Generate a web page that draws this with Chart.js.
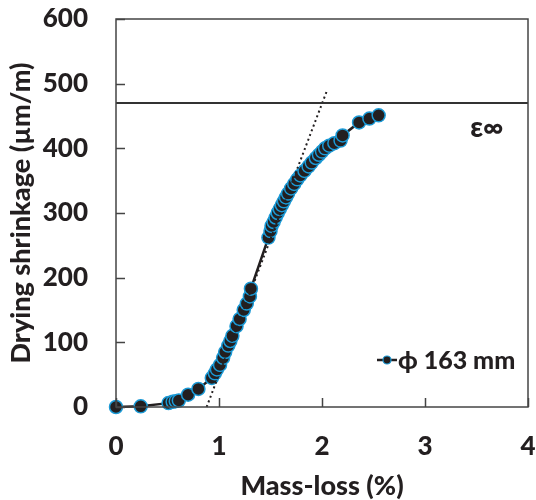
<!DOCTYPE html>
<html>
<head>
<meta charset="utf-8">
<script src="https://cdn.jsdelivr.net/npm/chart.js@4"></script>
<style>
	html, body { margin: 0; padding: 0; background: #fff; }
	#wrap { width: 536px; height: 500px; }
</style>
</head>
<body>
<div id="wrap"><canvas id="graph" width="536" height="500"></canvas></div>
<script>
// mass-loss (%) and drying shrinkage (µm/m)
const massLoss = [0, 0.24, 0.51, 0.55, 0.58, 0.61, 0.70, 0.80, 0.93, 0.96, 0.98, 1.01, 1.04, 1.06, 1.09, 1.11, 1.13, 1.17, 1.20, 1.24, 1.27, 1.30, 1.31,
	1.48, 1.50, 1.51, 1.53, 1.55, 1.57, 1.59, 1.61, 1.63, 1.65, 1.67, 1.70, 1.73, 1.76, 1.79, 1.83, 1.87, 1.90, 1.94, 1.97, 2.00, 2.03, 2.07, 2.12, 2.18, 2.20, 2.36, 2.46, 2.55];
const shrinkage = [0, 1, 6, 8, 9, 10, 19, 28, 45, 52, 58, 65, 76, 85, 95, 102, 110, 125, 136, 150, 160, 171, 183,
	262, 272, 280, 286, 293, 300, 306, 312, 318, 324, 330, 338, 345, 352, 358, 365, 372, 378, 385, 390, 395, 400, 404, 408, 412, 420, 440, 446, 451];
const tangentX = [0.88, 2.05];
const tangentY = [0, 490];
const ultimateShrinkage = 470;
const xTicks = [0, 1, 2, 3, 4];
const yTicks = [0, 100, 200, 300, 400, 500, 600];
const seriesLabel = 'ϕ 163 mm';

const font = 'Lato, "Open Sans", sans-serif';
const ink = '#231f20';
const blue = '#1b9ad6';

const points = massLoss.map((x, i) => ({ x: x, y: shrinkage[i] }));
const tangent = tangentX.map((x, i) => ({ x: x, y: tangentY[i] }));
const limit = [{ x: xTicks[0], y: ultimateShrinkage }, { x: xTicks[xTicks.length - 1], y: ultimateShrinkage }];

function noPadding(s) {
	s.paddingLeft = 0;
	s.paddingRight = 0;
	s.paddingTop = 0;
	s.paddingBottom = 0;
}

const frame = {
	id: 'frame',
	afterDraw(chart) {
		const ctx = chart.ctx;
		const a = chart.chartArea;
		const xs = chart.scales.x, ys = chart.scales.y;
		ctx.save();
		ctx.strokeStyle = '#444';
		ctx.lineWidth = 1.5;
		ctx.strokeRect(a.left, a.top, a.right - a.left, a.bottom - a.top);
		ctx.beginPath();
		yTicks.forEach(v => {
			const y = Math.round(ys.getPixelForValue(v)) + 0.5;
			ctx.moveTo(a.left, y);
			ctx.lineTo(a.left + 9, y);
		});
		xTicks.forEach(v => {
			const x = Math.round(xs.getPixelForValue(v)) + 0.5;
			ctx.moveTo(x, a.bottom);
			ctx.lineTo(x, a.bottom - 9);
		});
		ctx.stroke();

		// ε∞ label
		ctx.fillStyle = ink;
		ctx.font = '900 28px ' + font;
		ctx.textAlign = 'center';
		ctx.textBaseline = 'middle';
		ctx.fillText('ε∞', xs.getPixelForValue(3.6), ys.getPixelForValue(432));

		// legend
		const lx = 377, ly = 360;
		ctx.strokeStyle = ink;
		ctx.lineWidth = 2.5;
		ctx.beginPath();
		ctx.moveTo(lx, ly);
		ctx.lineTo(lx + 20, ly);
		ctx.stroke();
		ctx.beginPath();
		ctx.arc(lx + 10, ly, 4, 0, Math.PI * 2);
		ctx.fillStyle = ink;
		ctx.fill();
		ctx.strokeStyle = blue;
		ctx.lineWidth = 1.2;
		ctx.stroke();
		ctx.fillStyle = ink;
		ctx.font = '900 25px ' + font;
		ctx.textAlign = 'left';
		ctx.fillText(seriesLabel, lx + 21, ly + 1);
		ctx.restore();
	}
};

function plotGraph() {
	const ctx = document.getElementById('graph').getContext('2d');
	new Chart(ctx, {
		type: 'scatter',
		data: {
			datasets: [
				{
					data: limit,
					showLine: true,
					borderColor: '#333',
					borderWidth: 2,
					pointRadius: 0
				},
				{
					data: tangent,
					showLine: true,
					borderColor: ink,
					borderWidth: 2,
					borderDash: [2, 3],
					pointRadius: 0
				},
				{
					label: seriesLabel,
					data: points,
					showLine: true,
					borderColor: ink,
					borderWidth: 2.5,
					pointRadius: 6.5,
					pointBackgroundColor: ink,
					pointBorderColor: blue,
					pointBorderWidth: 1.5
				}
			]
		},
		options: {
			responsive: false,
			animation: false,
			clip: false,
			layout: {
				padding: { left: 0, right: 8, top: 19, bottom: 0 }
			},
			plugins: {
				legend: { display: false },
				tooltip: { enabled: false }
			},
			scales: {
				x: {
					type: 'linear',
					min: 0,
					max: 4,
					afterBuildTicks: s => { s.ticks = xTicks.map(v => ({ value: v })); },
					afterFit: s => { s.height = 93; noPadding(s); },
					grid: { display: false, drawTicks: false },
					border: { display: false },
					ticks: {
						color: ink,
						padding: 24,
						font: { family: font, size: 26, weight: '900' }
					},
					title: {
						display: true,
						text: 'Mass-loss (%)',
						color: ink,
						padding: { top: 0, bottom: 0 },
						font: { family: font, size: 27, weight: '900', lineHeight: 1 }
					}
				},
				y: {
					type: 'linear',
					min: 0,
					max: 600,
					afterBuildTicks: s => { s.ticks = yTicks.map(v => ({ value: v })); },
					afterFit: s => { s.width = 116; noPadding(s); },
					grid: { display: false, drawTicks: false },
					border: { display: false },
					ticks: {
						color: ink,
						padding: 28,
						font: { family: font, size: 26, weight: '900' }
					},
					title: {
						display: true,
						text: 'Drying shrinkage (µm/m)',
						color: ink,
						padding: { top: 8, bottom: 0 },
						font: { family: font, size: 27, weight: '900', lineHeight: 1 }
					}
				}
			}
		},
		plugins: [frame]
	});
}

document.addEventListener('DOMContentLoaded', plotGraph);
</script>
</body>
</html>
